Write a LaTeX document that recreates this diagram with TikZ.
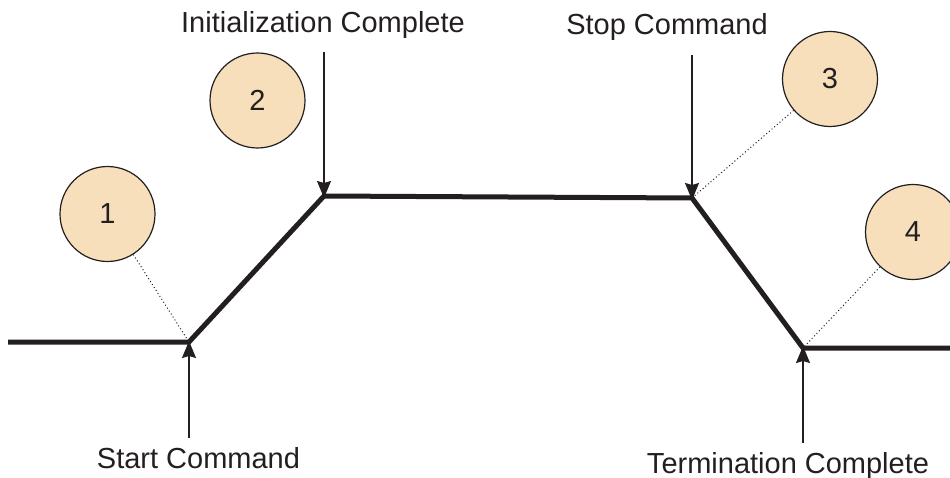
\documentclass[tikz,border=0pt]{standalone}
\usepackage{fontspec}
\setmainfont{Liberation Sans}
\usetikzlibrary{arrows.meta}
\definecolor{wheatfill}{RGB}{246,223,186}
\definecolor{ink}{RGB}{35,31,32}
\tikzset{
  lbl/.style={anchor=base, inner sep=0pt, text=ink, font=\fontsize{29}{34}\selectfont},
  num/.style={circle, draw=ink, line width=1.2pt, fill=wheatfill, minimum size=95pt, inner sep=0pt, text=ink, font=\fontsize{29}{34}\selectfont},
  profile/.style={draw=ink, line width=5pt, line join=miter},
  eventarrow/.style={draw=ink, line width=1.5pt, -{Stealth[length=17pt, width=14pt, inset=2pt]}},
  leader/.style={draw=ink, line width=1pt, dash pattern=on 1pt off 2.5pt},
}
\begin{document}
\begin{tikzpicture}[x=1pt, y=-1pt]
\useasboundingbox (0,0) rectangle (950,478);
\clip (0,0) rectangle (950,478);
% profile corners
\coordinate (p0) at (8,342);
\coordinate (pstart) at (189,342);
\coordinate (pinit) at (324,196);
\coordinate (pstop) at (692,198);
\coordinate (pterm) at (803,348);
\coordinate (p5) at (952,348);
\draw[profile] (p0) -- (pstart) -- (pinit) -- (pstop) -- (pterm) -- (p5);
% labels
\node[lbl] (tinit) at (323,33) {Initialization Complete};
\node[lbl] (tstop) at (667,35) {Stop Command};
\node[lbl] (tstart) at (198.5,468) {Start Command};
\node[lbl] (tterm) at (788,473) {Termination Complete};
% arrow tails
\coordinate (ainit) at (324,52);
\coordinate (astop) at (692,55);
\coordinate (astart) at (189,438);
\coordinate (aterm) at (803,443);
\draw[eventarrow] (ainit) -- ([yshift=-2pt]pinit);
\draw[eventarrow] (astop) -- ([yshift=-2pt]pstop);
\draw[eventarrow] (astart) -- ([yshift=1pt]pstart);
\draw[eventarrow] (aterm) -- ([yshift=2pt]pterm);
% circles
\node[num] (c1) at (107.5,214) {1};
\node[num] (c2) at (257.5,100.5) {2};
\node[num] (c3) at (830,79) {3};
\node[num] (c4) at (913,232) {4};
% leaders
\draw[leader] (c1) -- (pstart);
\draw[leader] (c3) -- (pstop);
\draw[leader] (c4) -- (pterm);
\end{tikzpicture}
\end{document}
